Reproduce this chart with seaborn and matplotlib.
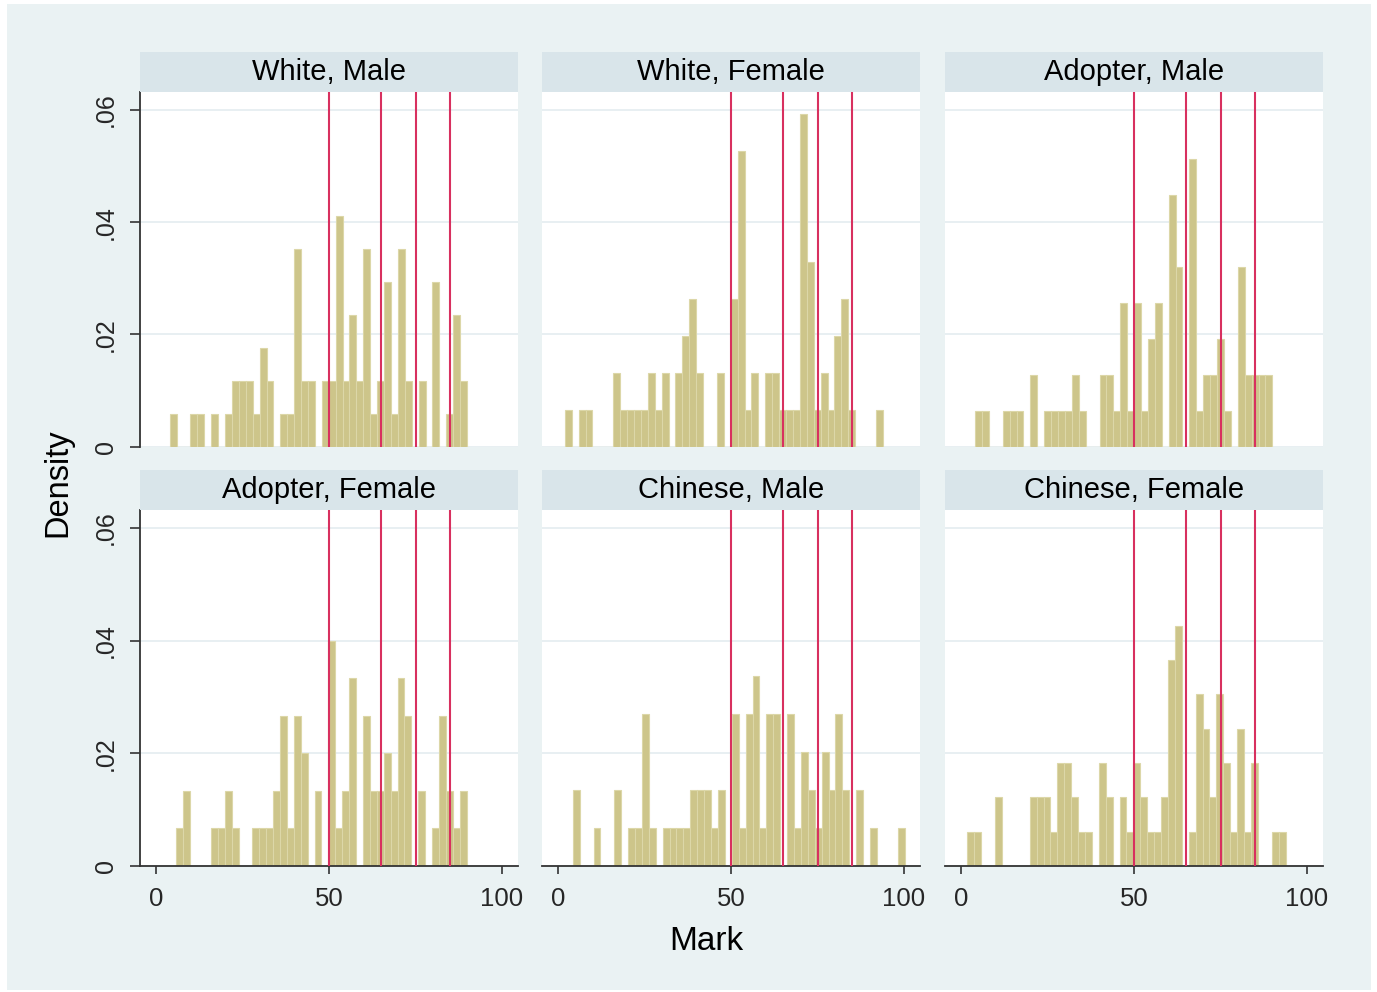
import numpy as np
import pandas as pd
import matplotlib
matplotlib.use("Agg")
import matplotlib.pyplot as plt
import seaborn as sns
from matplotlib.patches import Rectangle

# ---------------- data ----------------
panels = ["White, Male", "White, Female", "Adopter, Male",
          "Adopter, Female", "Chinese, Male", "Chinese, Female"]
bin_width = 2.0
bin_start = [3.9, 1.9, 4.0, 5.8, 4.2, 1.8]

counts_white_male = [1, 0, 0, 1, 1, 0, 1, 0, 1, 2, 2, 2, 1, 3, 2, 0, 1, 1, 6, 2,
                     2, 0, 2, 2, 7, 2, 4, 2, 6, 1, 2, 5, 1, 6, 2, 0, 2, 0, 5, 0,
                     1, 4, 2]
counts_white_female = [1, 0, 1, 1, 0, 0, 0, 2, 1, 1, 1, 1, 2, 1, 2, 0, 2, 3, 4, 2,
                       0, 0, 2, 0, 4, 8, 1, 2, 0, 2, 2, 1, 1, 1, 9, 5, 1, 2, 1, 3,
                       4, 1, 0, 0, 0, 1]
counts_adopter_male = [1, 1, 0, 0, 1, 1, 1, 0, 2, 0, 1, 1, 1, 1, 2, 1, 0, 0, 2, 2,
                       1, 4, 1, 4, 1, 3, 4, 0, 7, 5, 0, 8, 1, 2, 2, 3, 1, 0, 5, 2,
                       2, 2, 2]
counts_adopter_female = [1, 2, 0, 0, 0, 1, 1, 2, 1, 0, 0, 1, 1, 1, 2, 4, 1, 4, 3, 0,
                         2, 0, 6, 1, 2, 5, 0, 4, 2, 2, 3, 2, 5, 4, 0, 2, 0, 1, 4, 2,
                         1, 2]
counts_chinese_male = [2, 0, 0, 1, 0, 0, 2, 0, 1, 1, 4, 1, 0, 1, 1, 1, 1, 2, 2, 2,
                       1, 2, 0, 4, 1, 4, 5, 1, 4, 4, 0, 4, 1, 3, 2, 1, 3, 2, 4, 2,
                       0, 2, 0, 1, 0, 0, 0, 1]
counts_chinese_female = [1, 1, 0, 0, 2, 0, 0, 0, 0, 2, 2, 2, 1, 3, 3, 2, 1, 1, 0, 3,
                         2, 0, 2, 1, 3, 2, 1, 1, 2, 6, 7, 0, 1, 5, 4, 2, 5, 3, 1, 4,
                         1, 3, 0, 0, 1, 1]

cutoffs = [50, 65, 75, 85]
x_ticks = [0, 50, 100]
y_ticks = [0, 0.02, 0.04, 0.06]
y_tick_labels = ["0", ".02", ".04", ".06"]

all_counts = [counts_white_male, counts_white_female, counts_adopter_male,
              counts_adopter_female, counts_chinese_male, counts_chinese_female]

# ---------------- style ----------------
BG = "#EAF2F3"
STRIP = "#D9E5EA"
BAR = "#CDC58A"
BAR_EDGE = "#DCD7A8"
RED = "#D8305F"
AXC = "#333333"
GRID = "#E6EEF1"

sns.set_style("white")
plt.rcParams['font.family'] = ['Liberation Sans', 'DejaVu Sans']

W, H = 1377, 992
fig, axes = plt.subplots(2, 3, figsize=(W / 100, H / 100), dpi=100,
                         sharex=True, sharey=True)
fig.patch.set_facecolor("white")
fig.add_artist(Rectangle((7 / W, 1 - 990 / H), (1371 - 7) / W, (990 - 4) / H,
                         transform=fig.transFigure, facecolor=BG,
                         edgecolor="none", zorder=-5))

col_left = [140, 542, 945]
col_width = 377.5
row_top = [92, 510]
row_bottom = [446.5, 866]
strip_h = 40

for i, ax in enumerate(axes.flat):
    r, c = divmod(i, 3)
    l = col_left[c]
    t, b = row_top[r], row_bottom[r]
    ax.set_position([l / W, 1 - b / H, col_width / W, (b - t) / H])
    ax.set_facecolor("white")

    counts = np.array(all_counts[i], dtype=float)
    edges = bin_start[i] + bin_width * np.arange(len(counts) + 1)
    centers = (edges[:-1] + edges[1:]) / 2
    df = pd.DataFrame({"Mark": centers, "n": counts})
    sns.histplot(data=df, x="Mark", weights="n", bins=edges.tolist(),
                 stat="density", ax=ax, color=BAR, edgecolor=BAR_EDGE,
                 linewidth=0.8, alpha=1, zorder=2)
    for cval in cutoffs:
        ax.axvline(cval, color=RED, lw=1.5, zorder=3)

    ax.set_xlim(-4.7, 104.5)
    ax.set_ylim(0, 0.0632)
    ax.set_xticks(x_ticks)
    ax.set_yticks(y_ticks)
    ax.yaxis.grid(True, color=GRID, lw=1.3, zorder=0)
    ax.xaxis.grid(False)
    ax.set_axisbelow(True)
    ax.set_xlabel("")
    ax.set_ylabel("")

    for s in ["top", "right"]:
        ax.spines[s].set_visible(False)
    ax.spines["left"].set_visible(c == 0)
    ax.spines["bottom"].set_visible(r == 1)
    ax.spines["left"].set_color(AXC)
    ax.spines["bottom"].set_color(AXC)
    ax.spines["left"].set_linewidth(1.3)
    ax.spines["bottom"].set_linewidth(1.3)

    ax.tick_params(axis="y", left=(c == 0), labelleft=(c == 0), length=7,
                   width=1.2, color=AXC, labelsize=18, pad=9)
    ax.tick_params(axis="x", bottom=(r == 1), labelbottom=(r == 1), length=6,
                   width=1.2, color=AXC, labelsize=18.5, pad=9)
    if c == 0:
        ax.set_yticklabels(y_tick_labels)
        for lab in ax.get_yticklabels():
            lab.set_rotation(90)
            lab.set_va("center")
    if r == 1:
        ax.set_xticklabels([str(v) for v in x_ticks])

    hfrac = strip_h / (b - t)
    ax.add_patch(Rectangle((0, 1), 1, hfrac, transform=ax.transAxes,
                           facecolor=STRIP, edgecolor="none", clip_on=False,
                           zorder=5))
    ax.text(0.5, 1 + hfrac / 2, panels[i], transform=ax.transAxes,
            ha="center", va="center", fontsize=21, color="black", zorder=6)

fig.text(58 / W, 1 - 483 / H, "Density", rotation=90, ha="center",
         va="center", fontsize=23.5, color="black")
fig.text(706 / W, 1 - 942 / H, "Mark", ha="center", va="center",
         fontsize=24, color="black")

fig.savefig("out.png", dpi=100, facecolor=fig.get_facecolor())
